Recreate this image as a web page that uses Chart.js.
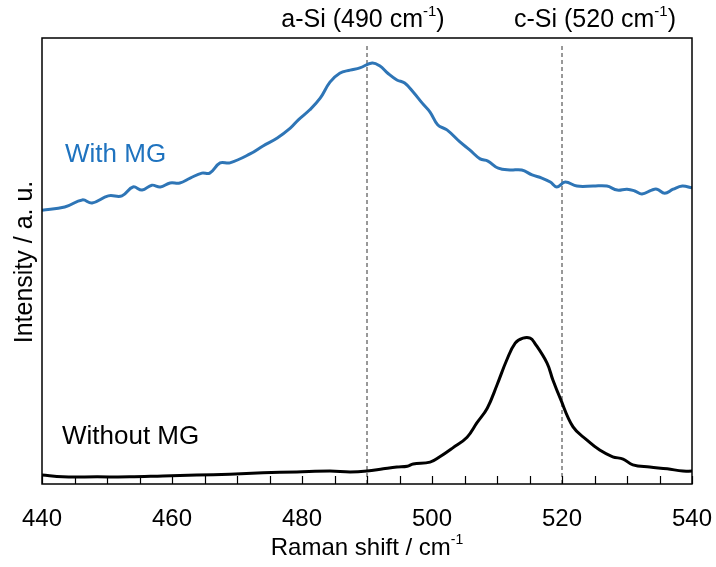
<!DOCTYPE html>
<html>
<head>
<meta charset="utf-8">
<script src="https://cdn.jsdelivr.net/npm/chart.js@4"></script>
<style>
  body { margin: 0; background: #fff; }
  canvas { display: block; }
</style>
</head>
<body>
<canvas id="ramanChart" width="716" height="567"></canvas>
<script>
// Raman shift (cm-1) and intensity (a. u.)
const withMgShift = [440, 443.5, 446.2, 447.7, 450.2, 452.3, 454, 455.4, 456.9, 458.2, 459.7, 461.2, 462.8,
    464.6, 465.8, 467.4, 468.9, 472, 474, 476.2, 478.2, 479.4, 481.2, 482.8, 484.3, 485.8, 487.4, 488.9,
    490.8, 492, 493.2, 494.6, 495.8, 497.1, 498.5, 499.7, 500.9, 502.3, 504.3, 505.8, 507.4, 508.6, 510.2,
    512, 513.8, 515.4, 516.9, 518.2, 519.2, 520.5, 522.3, 524.8, 526.9, 528.5, 530, 531.2, 532.3, 533.8,
    534.6, 535.8, 537.1, 538.5, 540];
const withMgIntensity = [61.4, 62.1, 63.7, 63.0, 64.6, 64.6, 66.6, 65.9, 67.0, 66.6, 67.5, 67.5, 68.6,
    69.7, 69.7, 72.0, 72.0, 74.0, 75.8, 77.6, 79.8, 81.6, 83.9, 86.5, 90.1, 92.1, 92.8, 93.3,
    94.4, 93.7, 92.1, 90.6, 89.9, 87.9, 85.4, 83.4, 80.5, 79.4, 76.7, 74.9, 72.9, 72.4, 70.8,
    70.4, 70.4, 69.3, 68.6, 67.7, 66.6, 67.7, 66.8, 66.8, 66.8, 65.9, 66.1, 65.7, 65.0, 65.9,
    66.1, 65.2, 66.1, 66.8, 66.4];

const withoutMgShift = [440, 443.2, 448.5, 453.5, 458.6, 463.8, 468.9, 474, 479.2, 484.3, 487.4, 490,
    492.5, 494.6, 496.2, 497.1, 499.7, 501.2, 503.2, 505.4, 506.9, 508.5, 510, 511.5, 512.8, 514,
    515.1, 515.8, 517.7, 518.6, 519.7, 521.7, 523.8, 525.8, 527.8, 529.4, 530.9, 533.5, 536.2, 538.6, 540];
const withoutMgIntensity = [2.0, 1.6, 1.6, 1.6, 1.8, 2.0, 2.2, 2.5, 2.7, 2.9, 2.7, 2.9,
    3.4, 3.8, 4.0, 4.5, 4.9, 6.1, 8.1, 10.5, 13.7, 17.0, 22.2, 27.8, 31.6, 32.7,
    32.7, 31.6, 27.1, 23.3, 19.3, 12.8, 9.9, 7.6, 6.1, 5.6, 4.3, 3.8, 3.4, 2.9, 2.9];

const markerShifts = [490, 520];
const markerLabels = ["a-Si (490 cm", "c-Si (520 cm"];
const xTickValues = [440, 460, 480, 500, 520, 540];

function toPoints(xs, ys) {
    let points = [];
    for (let i = 0; i < xs.length; i++) {
        points.push({x: xs[i], y: ys[i]});
    }
    return points;
}

const FONT = "'Liberation Sans', Arial, sans-serif";

// text with a small raised "-1"
function drawWithSup(ctx, text, cx, cy, size) {
    ctx.font = `${size}px ${FONT}`;
    let mainW = ctx.measureText(text).width;
    ctx.font = `${Math.round(size * 0.6)}px ${FONT}`;
    let supW = ctx.measureText("-1").width;
    let closing = text.startsWith("Raman") ? "" : ")";
    ctx.font = `${size}px ${FONT}`;
    let closeW = ctx.measureText(closing).width;
    let left = cx - (mainW + supW + closeW) / 2;
    ctx.textAlign = "left";
    ctx.textBaseline = "middle";
    ctx.fillText(text, left, cy);
    ctx.font = `${Math.round(size * 0.6)}px ${FONT}`;
    ctx.fillText("-1", left + mainW, cy - size * 0.32);
    ctx.font = `${size}px ${FONT}`;
    ctx.fillText(closing, left + mainW + supW, cy);
}

const frameAndText = {
    id: "frameAndText",
    afterDraw(chart) {
        const ctx = chart.ctx;
        const area = chart.chartArea;
        const xScale = chart.scales.x;
        ctx.save();
        ctx.strokeStyle = "#000";
        ctx.lineWidth = 1.5;
        ctx.strokeRect(area.left, area.top, area.right - area.left, area.bottom - area.top);

        // inward tick marks every 5 cm-1
        ctx.lineWidth = 1.2;
        for (let v = 440; v <= 540; v += 5) {
            let px = Math.round(xScale.getPixelForValue(v)) + 0.5;
            ctx.beginPath();
            ctx.moveTo(px, area.bottom);
            ctx.lineTo(px, area.bottom - 8);
            ctx.stroke();
        }

        ctx.fillStyle = "#000";
        drawWithSup(ctx, markerLabels[0], 363, 20, 25);
        drawWithSup(ctx, markerLabels[1], 595, 20, 25);
        drawWithSup(ctx, "Raman shift / cm", (area.left + area.right) / 2, 548, 24);

        ctx.font = `25px ${FONT}`;
        ctx.textAlign = "center";
        ctx.textBaseline = "middle";
        ctx.translate(25, 262);
        ctx.rotate(-Math.PI / 2);
        ctx.fillText("Intensity / a. u.", 0, 0);
        ctx.restore();

        ctx.save();
        ctx.font = `26px ${FONT}`;
        ctx.textAlign = "left";
        ctx.textBaseline = "middle";
        ctx.fillStyle = "#1F73BF";
        ctx.fillText("With MG", 65, 155);
        ctx.fillStyle = "#000";
        ctx.fillText("Without MG", 62, 437);
        ctx.restore();
    }
};

let datasets = [{
    data: toPoints(withMgShift, withMgIntensity),
    borderColor: "#2E75B6",
    borderWidth: 3,
    pointRadius: 0,
    tension: 0.4,
    fill: false
}, {
    data: toPoints(withoutMgShift, withoutMgIntensity),
    borderColor: "#000",
    borderWidth: 3,
    pointRadius: 0,
    tension: 0.4,
    fill: false
}];

for (let s of markerShifts) {
    datasets.push({
        data: [{x: s, y: 0}, {x: s, y: 98.4}],
        borderColor: "#333",
        borderWidth: 1,
        borderDash: [4, 3],
        pointRadius: 0,
        fill: false
    });
}

new Chart("ramanChart", {
    type: "line",
    data: {datasets: datasets},
    options: {
        responsive: false,
        animation: false,
        devicePixelRatio: 1,
        layout: {padding: {top: 38, right: 24, left: 42, bottom: 0}},
        plugins: {legend: {display: false}, tooltip: {enabled: false}},
        scales: {
            x: {
                type: "linear",
                min: 440,
                max: 540,
                afterBuildTicks: function (scale) {
                    scale.ticks = xTickValues.map(v => ({value: v}));
                },
                afterFit: function (scale) {
                    scale.height = 83;
                    scale.paddingLeft = 0;
                    scale.paddingRight = 0;
                },
                grid: {display: false},
                border: {display: false},
                ticks: {
                    color: "#000",
                    font: {size: 24, family: FONT},
                    padding: 13,
                    maxRotation: 0
                }
            },
            y: {
                display: false,
                min: 0,
                max: 100
            }
        }
    },
    plugins: [frameAndText]
});
</script>
</body>
</html>
